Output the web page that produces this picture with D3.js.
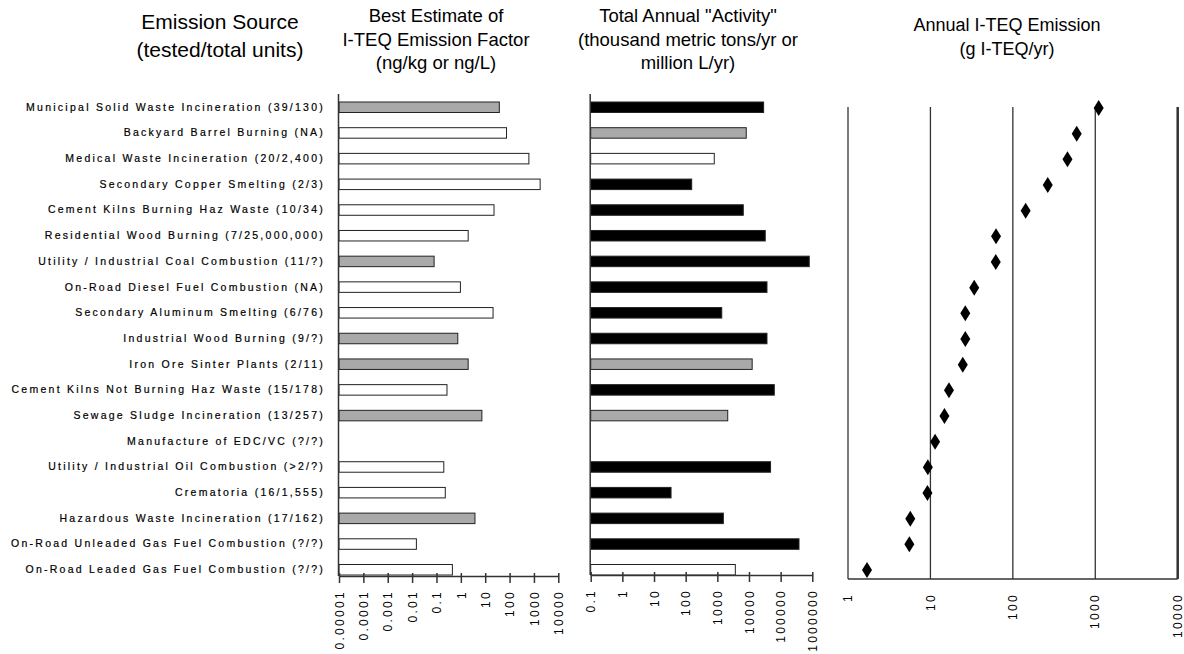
<!DOCTYPE html>
<html>
<head>
<meta charset="utf-8">
<script src="https://cdn.jsdelivr.net/npm/d3@7"></script>
<style>
    body { margin: 0; background: #fff; }
    svg { font-family: "Liberation Sans", Arial, sans-serif; }
</style>
</head>
<body>
<svg id="chart" width="1184" height="654"></svg>
<script>
// Emission sources, top to bottom
const sources = [
    'Municipal Solid Waste Incineration (39/130)',
    'Backyard Barrel Burning (NA)',
    'Medical Waste Incineration (20/2,400)',
    'Secondary Copper Smelting (2/3)',
    'Cement Kilns Burning Haz Waste (10/34)',
    'Residential Wood Burning (7/25,000,000)',
    'Utility / Industrial Coal Combustion (11/?)',
    'On-Road Diesel Fuel Combustion (NA)',
    'Secondary Aluminum Smelting (6/76)',
    'Industrial Wood Burning (9/?)',
    'Iron Ore Sinter Plants (2/11)',
    'Cement Kilns Not Burning Haz Waste (15/178)',
    'Sewage Sludge Incineration (13/257)',
    'Manufacture of EDC/VC (?/?)',
    'Utility / Industrial Oil Combustion (>2/?)',
    'Crematoria (16/1,555)',
    'Hazardous Waste Incineration (17/162)',
    'On-Road Unleaded Gas Fuel Combustion (?/?)',
    'On-Road Leaded Gas Fuel Combustion (?/?)',
];

// Best estimate of I-TEQ emission factor (ng/kg or ng/L)
const factorValues = [38, 75, 620, 1800, 23, 2.0, 0.08, 0.96, 21, 0.75, 2.0, 0.27, 7.3, null, 0.2, 0.23, 3.8, 0.015, 0.45];
// Confidence rating of the factor (A high, B medium, C low)
const factorRating = ['B', 'C', 'C', 'C', 'C', 'C', 'B', 'C', 'C', 'B', 'B', 'C', 'B', null, 'C', 'C', 'B', 'C', 'C'];

// Total annual activity (thousand metric tons/yr or million L/yr)
const activityValues = [29000, 8200, 800, 155, 6600, 32600, 800000, 37000, 1380, 37000, 12600, 63000, 2130, null, 48000, 34.5, 1550, 380000, 3700];
const activityRating = ['A', 'B', 'C', 'A', 'A', 'A', 'A', 'A', 'A', 'A', 'B', 'A', 'B', null, 'A', 'A', 'A', 'A', 'C'];

// Annual I-TEQ emission (g I-TEQ/yr)
const emissionValues = [1100, 596, 460, 265, 143, 62.5, 62, 34, 26.5, 26.5, 24.7, 16.8, 14.8, 11.4, 9.3, 9.2, 5.7, 5.55, 1.7];

// Tick labels
const factorTicks = ['0.00001', '0.0001', '0.001', '0.01', '0.1', '1', '10', '100', '1000', '10000'];
const activityTicks = ['0.1', '1', '10', '100', '1000', '10000', '100000', '1000000'];
const emissionTicks = ['1', '10', '100', '1000', '10000'];

// Column headers
const headers = [
    { lines: ['Emission Source', '(tested/total units)'], x: 220, y: 29, size: 21, gap: 28 },
    { lines: ['Best Estimate of', 'I-TEQ Emission Factor', '(ng/kg or ng/L)'], x: 436, y: 22, size: 18.5, gap: 23.5 },
    { lines: ['Total Annual "Activity"', '(thousand metric tons/yr or', 'million L/yr)'], x: 688, y: 22, size: 18.5, gap: 23.5 },
    { lines: ['Annual I-TEQ Emission', '(g I-TEQ/yr)'], x: 1007, y: 31, size: 18, gap: 23.5 },
];

let svg = d3.select('#chart');

let rating = d3.scaleOrdinal().domain(['A', 'B', 'C']).range(['#000', '#a9a9a9', '#fff']);

// Headers
headers.forEach(function (h) {
    svg.append('text')
        .attr('text-anchor', 'middle')
        .attr('font-size', h.size)
        .selectAll('tspan')
        .data(h.lines)
        .enter()
        .append('tspan')
        .attr('x', h.x)
        .attr('y', (d, i) => h.y + i * h.gap)
        .text((d) => d);
});

// Row positions
let rows = d3.scalePoint().domain(sources).range([107, 569.5]);
let rowsRight = d3.scalePoint().domain(sources).range([108, 570]);

// Category labels
svg.append('g')
    .selectAll('text')
    .data(sources)
    .enter()
    .append('text')
    .attr('x', 325)
    .attr('y', (d) => rows(d))
    .attr('dy', '0.35em')
    .attr('text-anchor', 'end')
    .attr('font-size', 10.5)
    .attr('letter-spacing', 2.25)
    .attr('stroke', '#000')
    .attr('stroke-width', 0.2)
    .text((d) => d);

/**
 * Draw a log-scale horizontal bar panel.
 */
function add_bar_panel(values, ratings, ticks, xRange, axisY) {
    let x = d3.scaleLog().domain([+ticks[0], +ticks[ticks.length - 1]]).range(xRange);
    let layer = svg.append('g');

    let data = sources
        .map((s, i) => ({ source: s, value: values[i], rating: ratings[i] }))
        .filter((d) => d.value != null);

    layer.selectAll('rect')
        .data(data)
        .enter()
        .append('rect')
        .attr('x', x.range()[0])
        .attr('y', (d) => rows(d.source) - 5)
        .attr('width', (d) => x(d.value) - x.range()[0])
        .attr('height', 10.5)
        .attr('fill', (d) => rating(d.rating))
        .attr('stroke', '#222')
        .attr('stroke-width', 1);

    // Vertical baseline
    layer.append('line')
        .attr('x1', x.range()[0] - 0.5)
        .attr('x2', x.range()[0] - 0.5)
        .attr('y1', 94)
        .attr('y2', axisY)
        .attr('stroke', '#333')
        .attr('stroke-width', 1.5);

    // Bottom axis
    let axis = layer.append('g')
        .attr('transform', 'translate(0,' + axisY + ')')
        .call(
            d3.axisBottom(x)
                .tickValues(ticks.map((t) => +t))
                .tickFormat((d, i) => ticks[i])
                .tickSizeInner(7)
                .tickSizeOuter(0)
        );
    axis.select('.domain').attr('stroke', '#333').attr('stroke-width', 1.5);
    axis.selectAll('.tick line').attr('stroke', '#333').attr('stroke-width', 1.5).attr('y1', -3);
    axis.selectAll('.tick text')
        .attr('transform', 'rotate(-90)')
        .attr('x', -14)
        .attr('y', 0)
        .attr('dy', '0.35em')
        .attr('text-anchor', 'end')
        .attr('font-size', 12)
        .attr('letter-spacing', 2.3)
        .attr('fill', '#000');
}

add_bar_panel(factorValues, factorRating, factorTicks, [339, 558.3], 576);
add_bar_panel(activityValues, activityRating, activityTicks, [590.7, 812.3], 575);

// Emission panel with diamonds
let xe = d3.scaleLog().domain([1, 10000]).range([848, 1177.7]);
let emLayer = svg.append('g');

emLayer.selectAll('line.grid')
    .data(emissionTicks)
    .enter()
    .append('line')
    .attr('class', 'grid')
    .attr('x1', (d) => xe(+d))
    .attr('x2', (d) => xe(+d))
    .attr('y1', 107)
    .attr('y2', 579)
    .attr('stroke', '#333')
    .attr('stroke-width', (d, i) => (i == emissionTicks.length - 1 ? 2.5 : 1.3));

emLayer.append('line')
    .attr('x1', xe(1))
    .attr('x2', xe(10000))
    .attr('y1', 579)
    .attr('y2', 579)
    .attr('stroke', '#333')
    .attr('stroke-width', 1.5);

emLayer.selectAll('text')
    .data(emissionTicks)
    .enter()
    .append('text')
    .attr('transform', (d) => 'translate(' + xe(+d) + ',579) rotate(-90)')
    .attr('x', -14)
    .attr('dy', '0.35em')
    .attr('text-anchor', 'end')
    .attr('font-size', 12)
    .attr('letter-spacing', 2.3)
    .text((d) => d);

emLayer.selectAll('path.diamond')
    .data(sources.map((s, i) => ({ source: s, value: emissionValues[i] })))
    .enter()
    .append('path')
    .attr('class', 'diamond')
    .attr('transform', (d) => 'translate(' + xe(d.value) + ',' + rowsRight(d.source) + ')')
    .attr('d', 'M0,-8L5,0L0,8L-5,0Z')
    .attr('fill', '#000');
</script>
</body>
</html>
